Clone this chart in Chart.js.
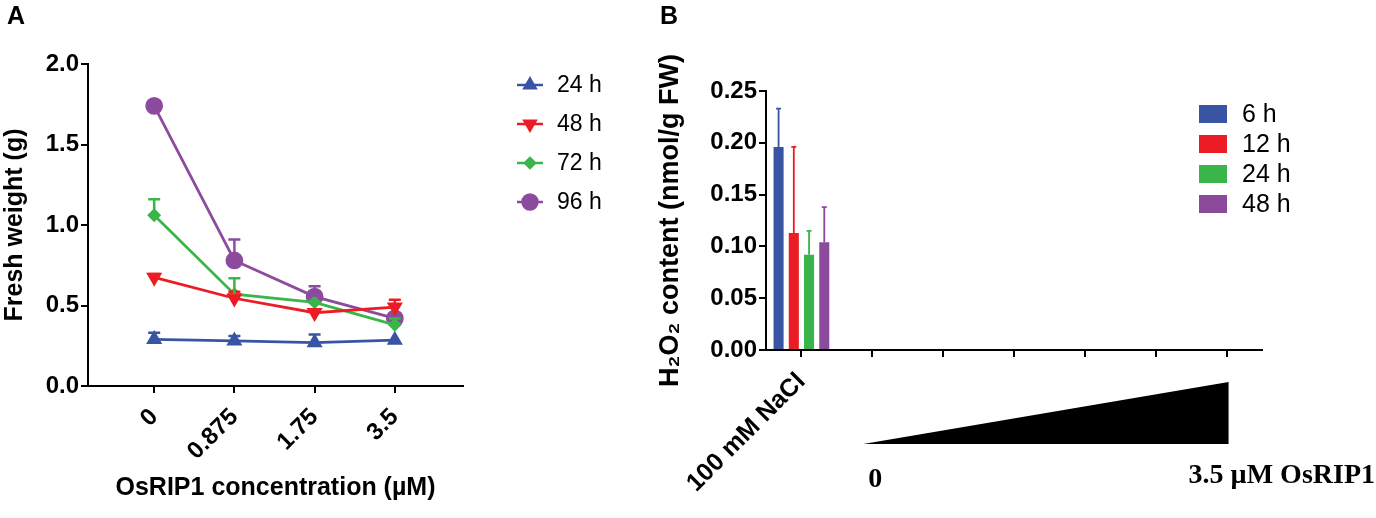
<!DOCTYPE html>
<html>
<head>
<meta charset="utf-8">
<script src="https://cdn.jsdelivr.net/npm/chart.js@4.4.1/dist/chart.umd.min.js"></script>
<style>
  body { margin: 0; background: #fff; }
  #wrap { position: relative; width: 1376px; height: 518px; overflow: hidden; }
  .panel { position: absolute; top: 0; height: 518px; }
  .tag { position: absolute; font: bold 25px "Liberation Sans", Arial, sans-serif; color: #000; }
</style>
</head>
<body>
<div id="wrap">
  <div class="panel" style="left:0;width:640px"><canvas id="chartA"></canvas></div>
  <div class="panel" style="left:640px;width:736px"><canvas id="chartB"></canvas></div>
  <div class="tag" style="left:7px;top:1px">A</div>
  <div class="tag" style="left:660px;top:1px">B</div>
</div>
<script>
// Panel A: fresh weight vs OsRIP1 concentration
const concLabels = ['0', '0.875', '1.75', '3.5'];
const fw24 = [0.29, 0.28, 0.27, 0.285];
const fw48 = [0.675, 0.545, 0.455, 0.49];
const fw72 = [1.06, 0.57, 0.52, 0.38];
const fw96 = [1.74, 0.78, 0.555, 0.42];
const err24 = [0.04, 0.03, 0.05, 0];
const err48 = [0.02, 0.04, 0, 0.045];
const err72 = [0.10, 0.10, 0, 0.04];
const err96 = [0.02, 0.13, 0.065, 0];

// Panel B: H2O2 content
const categoriesB = ['100 mM NaCl', '', '', '', '', '', ''];
const timeLabelsB = ['6 h', '12 h', '24 h', '48 h'];
const h2o2Mean = [0.196, 0.113, 0.092, 0.104];
const h2o2Err = [0.037, 0.083, 0.023, 0.034];
const doseLabels = ['0', '3.5 \u00b5M OsRIP1'];

const SANS = '"Liberation Sans", Arial, sans-serif';
Chart.defaults.font.family = SANS;
Chart.defaults.color = '#000';
Chart.defaults.animation = false;

const toPoints = arr => arr.map((v, i) => ({ x: i, y: v }));

// upward-only error bars with caps
function errorBars(id, capHalf, width) {
  return {
    id: id,
    afterDatasetsDraw(chart) {
      const ctx = chart.ctx;
      const y = chart.scales.y;
      chart.data.datasets.forEach((ds, i) => {
        const meta = chart.getDatasetMeta(i);
        meta.data.forEach((el, j) => {
          const e = ds.errUp[j];
          const v = typeof ds.data[j] === 'object' && ds.data[j] !== null ? ds.data[j].y : ds.data[j];
          if (!e || v == null) return;
          const top = y.getPixelForValue(v + e);
          ctx.save();
          ctx.strokeStyle = ds.borderColor;
          ctx.lineWidth = width;
          ctx.beginPath();
          ctx.moveTo(el.x, el.y);
          ctx.lineTo(el.x, top);
          ctx.moveTo(el.x - capHalf, top);
          ctx.lineTo(el.x + capHalf, top);
          ctx.stroke();
          ctx.restore();
        });
      });
    }
  };
}

const legendA = {
  id: 'legendA',
  afterDraw(chart) {
    const ctx = chart.ctx;
    chart.data.datasets.forEach((ds, i) => {
      const y = 85 + i * 39;
      ctx.save();
      ctx.strokeStyle = ds.borderColor;
      ctx.fillStyle = ds.backgroundColor;
      ctx.lineWidth = 2.5;
      ctx.beginPath();
      ctx.moveTo(517, y);
      ctx.lineTo(543, y);
      ctx.stroke();
      Chart.helpers.drawPoint(ctx, {
        pointStyle: ds.pointStyle, rotation: ds.pointRotation || 0,
        radius: ds.pointRadius, borderWidth: 1
      }, 530, y);
      ctx.fillStyle = '#000';
      ctx.font = '23px ' + SANS;
      ctx.textBaseline = 'middle';
      ctx.textAlign = 'left';
      ctx.fillText(ds.label, 557, y + 1);
      ctx.restore();
    });
  }
};

const axisGrid = { display: true, drawOnChartArea: false, drawTicks: true, tickLength: 7, color: '#000', lineWidth: 2 };
const axisBorder = { display: true, color: '#000', width: 2 };

new Chart(document.getElementById('chartA'), {
  type: 'line',
  data: {
    datasets: [
      { label: '24 h', data: toPoints(fw24), errUp: err24, borderColor: '#3a54a4', backgroundColor: '#3a54a4',
        pointStyle: 'triangle', pointRadius: 6.5, borderWidth: 2.8 },
      { label: '48 h', data: toPoints(fw48), errUp: err48, borderColor: '#ec1c24', backgroundColor: '#ec1c24',
        pointStyle: 'triangle', pointRotation: 180, pointRadius: 6.5, borderWidth: 2.8 },
      { label: '72 h', data: toPoints(fw72), errUp: err72, borderColor: '#3ab54a', backgroundColor: '#3ab54a',
        pointStyle: 'rectRot', pointRadius: 5, borderWidth: 2.8 },
      { label: '96 h', data: toPoints(fw96), errUp: err96, borderColor: '#8c4b9f', backgroundColor: '#8c4b9f',
        pointStyle: 'circle', pointRadius: 7.5, borderWidth: 2.8 }
    ]
  },
  options: {
    responsive: true,
    maintainAspectRatio: false,
    layout: { padding: { left: 0, top: 64, right: 177, bottom: 0 } },
    elements: { point: { borderWidth: 1 }, line: { tension: 0 } },
    plugins: { legend: { display: false }, tooltip: { enabled: false } },
    scales: {
      x: {
        type: 'linear', min: -0.825, max: 3.85,
        afterBuildTicks: s => { s.ticks = concLabels.map((_, i) => ({ value: i })); },
        afterFit: s => { s.height = 132; },
        grid: axisGrid, border: axisBorder,
        ticks: { autoSkip: false, minRotation: 45, maxRotation: 45, padding: 10,
                 font: { size: 24, weight: 'bold' }, callback: v => concLabels[v] },
        title: { display: true, text: 'OsRIP1 concentration (\u00b5M)', font: { size: 25, weight: 'bold' },
                 padding: { top: 0, bottom: 15 } }
      },
      y: {
        min: 0, max: 2.0,
        afterFit: s => { s.width = 88; },
        grid: axisGrid, border: axisBorder,
        ticks: { stepSize: 0.5, padding: 2, font: { size: 24, weight: 'bold' }, callback: v => v.toFixed(1) },
        title: { display: true, text: 'Fresh weight (g)', font: { size: 25, weight: 'bold' }, padding: 0 }
      }
    }
  },
  plugins: [errorBars('errA', 6, 2.5), legendA]
});

const barColors = ['#3a54a4', '#ec1c24', '#3ab54a', '#8c4a9d'];

const legendB = {
  id: 'legendB',
  afterDraw(chart) {
    const ctx = chart.ctx;
    chart.data.datasets.forEach((ds, i) => {
      const y = 114 + i * 30;
      ctx.save();
      ctx.fillStyle = ds.backgroundColor;
      ctx.fillRect(559, y - 9, 28, 18);
      ctx.fillStyle = '#000';
      ctx.font = '25px ' + SANS;
      ctx.textBaseline = 'middle';
      ctx.fillText(ds.label, 602, y + 1);
      ctx.restore();
    });
  }
};

const doseWedge = {
  id: 'doseWedge',
  afterDraw(chart) {
    const ctx = chart.ctx;
    const x = chart.scales.x;
    const bottom = chart.chartArea.bottom;
    const x0 = x.getPixelForValue(1) - 9;
    const x1 = x.getPixelForValue(categoriesB.length - 1) + 2;
    ctx.save();
    ctx.fillStyle = '#000';
    ctx.beginPath();
    ctx.moveTo(x0, bottom + 94);
    ctx.lineTo(x1, bottom + 94);
    ctx.lineTo(x1, bottom + 32);
    ctx.closePath();
    ctx.fill();
    ctx.font = 'bold 28px "Liberation Serif", "Times New Roman", serif';
    ctx.textBaseline = 'middle';
    ctx.textAlign = 'center';
    ctx.fillText(doseLabels[0], x.getPixelForValue(1) + 3, bottom + 130);
    ctx.textAlign = 'right';
    ctx.fillText(doseLabels[1], chart.width - 1, bottom + 126);
    ctx.restore();
  }
};

new Chart(document.getElementById('chartB'), {
  type: 'bar',
  data: {
    labels: categoriesB,
    datasets: timeLabelsB.map((lab, i) => ({
      label: lab,
      data: categoriesB.map((c, j) => (j === 0 ? h2o2Mean[i] : null)),
      errUp: categoriesB.map((c, j) => (j === 0 ? h2o2Err[i] : null)),
      backgroundColor: barColors[i],
      borderColor: barColors[i],
      borderWidth: 0,
      categoryPercentage: 0.86,
      barPercentage: 0.66
    }))
  },
  options: {
    responsive: true,
    maintainAspectRatio: false,
    layout: { padding: { left: 0, top: 91, right: 114, bottom: 0 } },
    plugins: { legend: { display: false }, tooltip: { enabled: false } },
    scales: {
      x: {
        afterFit: s => { s.height = 168; },
        grid: Object.assign({}, axisGrid, { offset: false }), border: axisBorder,
        ticks: { autoSkip: false, minRotation: 45, maxRotation: 45, padding: 10,
                 font: { size: 25, weight: 'bold' } }
      },
      y: {
        min: 0, max: 0.25,
        afterFit: s => { s.width = 126; },
        grid: axisGrid, border: axisBorder,
        ticks: { stepSize: 0.05, padding: 2, font: { size: 24, weight: 'bold' }, callback: v => v.toFixed(2) },
        title: { display: true, text: 'H\u2082O\u2082 content (nmol/g FW)', font: { size: 27, weight: 'bold' },
                 padding: { top: 14, bottom: 0 } }
      }
    }
  },
  plugins: [errorBars('errB', 2.5, 1.8), legendB, doseWedge]
});
</script>
</body>
</html>
